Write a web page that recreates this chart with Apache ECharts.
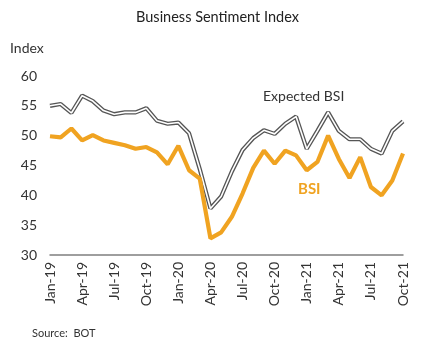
<!DOCTYPE html>
<html>
<head>
<meta charset="utf-8">
<script src="https://cdn.jsdelivr.net/npm/echarts@6/dist/echarts.min.js"></script>
<style>
html,body{margin:0;padding:0;background:#fff;}
#chart{width:435px;height:349px;}
</style>
</head>
<body>
<div id="chart"></div>
<script>
const months = ["Jan-19","Feb-19","Mar-19","Apr-19","May-19","Jun-19","Jul-19","Aug-19","Sep-19","Oct-19","Nov-19","Dec-19",
  "Jan-20","Feb-20","Mar-20","Apr-20","May-20","Jun-20","Jul-20","Aug-20","Sep-20","Oct-20","Nov-20","Dec-20",
  "Jan-21","Feb-21","Mar-21","Apr-21","May-21","Jun-21","Jul-21","Aug-21","Sep-21","Oct-21"];
const bsi = [49.9, 49.7, 51.2, 49.2, 50.1, 49.2, 48.8, 48.4, 47.8, 48.1, 47.2, 45.2,
  48.3, 44.2, 42.8, 32.8, 33.8, 36.4, 40.3, 44.6, 47.5, 45.3, 47.5, 46.7,
  44.2, 45.6, 50.0, 46.1, 42.9, 46.4, 41.4, 40.0, 42.5, 47.0];
const expectedBsi = [55.0, 55.3, 53.8, 56.7, 55.8, 54.2, 53.6, 53.9, 53.9, 54.6, 52.5, 52.0,
  52.2, 50.4, 44.4, 37.8, 39.8, 44.0, 47.6, 49.6, 50.9, 50.3, 52.0, 53.2,
  47.8, 50.8, 53.9, 50.8, 49.4, 49.4, 47.8, 47.0, 50.8, 52.4];
const yTicks = [30, 35, 40, 45, 50, 55, 60];

const FONT = 'Lato';
const chart = echarts.init(document.getElementById('chart'), null, {renderer:'canvas'});
chart.setOption({
  animation: false,
  backgroundColor: '#fff',
  textStyle: {fontFamily: FONT},
  grid: {left: 50, right: 32, top: 76, bottom: 94, containLabel: false},
  xAxis: {
    type: 'category', data: months, boundaryGap: false,
    axisLine: {show: true, lineStyle: {color: '#7f7f7f', width: 1.5}},
    axisTick: {show: false},
    axisLabel: {interval: 2, rotate: 90, margin: 7, color: '#333', fontSize: 14, fontFamily: FONT}
  },
  yAxis: {
    type: 'value', min: yTicks[0], max: yTicks[yTicks.length-1], interval: 5,
    axisLine: {show: false}, axisTick: {show: false}, splitLine: {show: false},
    axisLabel: {color: '#333', fontSize: 14, margin: 13, fontFamily: FONT}
  },
  graphic: [
    {type:'text', left: 'center', top: 10, style:{text:'Business Sentiment Index', font:'14.5px Lato', fill:'#222'}},
    {type:'text', left: 10, top: 41, style:{text:'Index', font:'14px Lato', fill:'#333'}},
    {type:'text', left: 263, top: 89, style:{text:'Expected BSI', font:'14px Lato', fill:'#333'}},
    {type:'text', left: 298, top: 182, style:{text:'BSI', font:'bold 15px Lato', fill:'#F0A321'}},
    {type:'text', left: 32, top: 328, style:{text:'Source:  BOT', font:'11px Lato', fill:'#333'}}
  ],
  series: [
    {name:'Expected BSI outline', type:'line', data: expectedBsi, symbol:'none', silent:true,
     lineStyle:{color:'#555', width:4.2}, z:2},
    {name:'Expected BSI', type:'line', data: expectedBsi, symbol:'none', silent:true,
     lineStyle:{color:'#fff', width:1.6}, z:3},
    {name:'BSI', type:'line', data: bsi, symbol:'none', silent:true,
     lineStyle:{color:'#F0A321', width:4.2}, z:4}
  ]
});
</script>
</body>
</html>
